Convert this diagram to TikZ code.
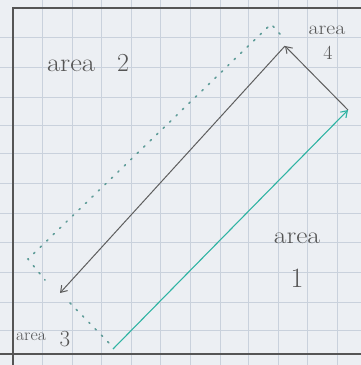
\documentclass[tikz,border=0pt]{standalone}
\usetikzlibrary{arrows.meta}
\definecolor{paper}{HTML}{ECEFF3}
\definecolor{gridc}{HTML}{C9D1DC}
\definecolor{pen}{HTML}{5E5E5E}
\definecolor{txt}{HTML}{555555}
\definecolor{teal1}{HTML}{2FB3A3}
\definecolor{dotc}{HTML}{5E9C98}
\definecolor{frame}{HTML}{555555}
\tikzset{
  gridline/.style={gridc, line width=0.8pt},
  frameline/.style={frame, line width=1.4pt},
  grayarrow/.style={pen, line width=1pt, -{Straight Barb[length=6pt,width=8pt]}},
  greenarrow/.style={teal1, line width=1.1pt, -{Straight Barb[length=6pt,width=8pt]}},
  dotline/.style={dotc, line width=1.6pt, line cap=round, dash pattern=on 1.5pt off 7.5pt},
  hand/.style={text=txt, inner sep=0pt, font=\rmfamily}
}
\begin{document}
\begin{tikzpicture}[x=1pt,y=-1pt]
\useasboundingbox (0,0) rectangle (361,365);
\fill[paper] (0,0) rectangle (361,365);
% grid
\foreach \gx in {42,72,101,131,160,190,220,248,278,307,337}
  \draw[gridline] (\gx,0) -- (\gx,365);
\foreach \gy in {37,67,97,125,153,183,213,242,272,302,330}
  \draw[gridline] (0,\gy) -- (361,\gy);
% frame
\draw[frameline] (13,365) -- (13,8) -- (361,8);
\draw[frameline] (0,354) -- (361,354);
% points
\coordinate (S) at (113,349);
\coordinate (R) at (348,110);
\coordinate (T) at (285,46);
\coordinate (L) at (60,293);
\coordinate (D0) at (280,34);
\coordinate (D1) at (271,24);
\coordinate (D2) at (28,259);
\coordinate (D3) at (45,280);
\coordinate (D4) at (70,303);
\coordinate (D5) at (110,344);
% dotted outline
\draw[dotline] (D0) -- (D1) -- (D2) -- (D3);
\draw[dotline] (D4) -- (D5);
% arrows
\draw[greenarrow] (S) -- (R);
\draw[grayarrow] (R) -- (T);
\draw[grayarrow] (T) -- (L);
% labels
\node[hand] (a2) at (71,66) {\scalebox{1.1}[1]{\fontsize{26}{26}\selectfont area}};
\node[hand] (n2) at (123,63) {\fontsize{26}{26}\selectfont 2};
\node[hand] (a4) at (327,30) {\scalebox{1.15}[1]{\fontsize{19}{19}\selectfont area}};
\node[hand] (n4) at (328,53) {\fontsize{20}{20}\selectfont 4};
\node[hand] (a1) at (297,238) {\scalebox{1.15}[1]{\fontsize{24}{24}\selectfont area}};
\node[hand] (n1) at (297,278) {\fontsize{28}{28}\selectfont 1};
\node[hand] (a3) at (31,337) {\scalebox{1.05}[1]{\fontsize{17}{17}\selectfont area}};
\node[hand] (n3) at (65,339) {\fontsize{23}{23}\selectfont 3};
\end{tikzpicture}
\end{document}
